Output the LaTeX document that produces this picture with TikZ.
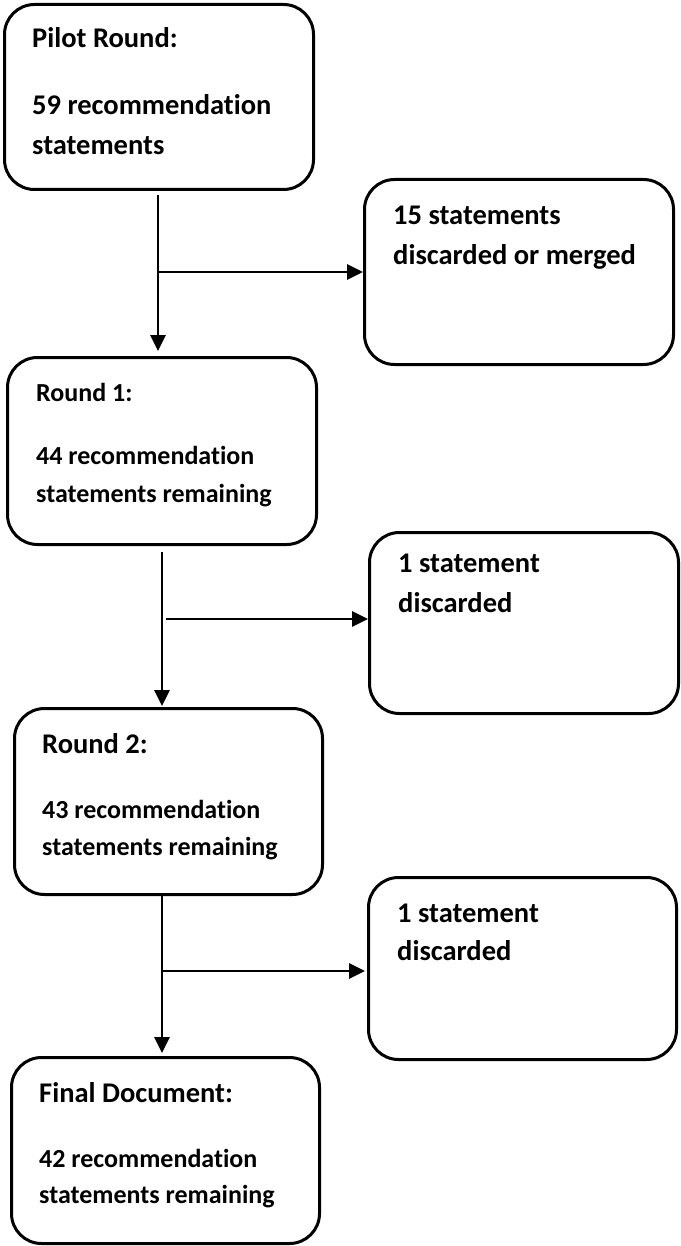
\documentclass[tikz,border=0pt]{standalone}
\usepackage{fontspec}
\setmainfont{Carlito}[RawFeature={-liga}]
\usetikzlibrary{arrows.meta}
\tikzset{
  box/.style={draw=black, line width=3pt, rounded corners=30pt, inner sep=0pt, anchor=north west},
  txt/.style={anchor=base west, inner sep=0pt, font=\fontsize{26}{31}\selectfont\bfseries},
  txtl/.style={txt, font=\fontsize{28.5}{34}\selectfont\bfseries},
  arr/.style={draw=black, line width=2.8pt, -{Triangle[length=16pt,width=15pt]}},
}
\newcommand\mkbox[5]{%
  \pgfmathsetmacro\bw{#4-#2}\pgfmathsetmacro\bh{#5-#3}%
  \node[box, minimum width=\bw pt, minimum height=\bh pt] (#1) at (#2,#3) {};}
\begin{document}
\begin{tikzpicture}[x=1pt,y=-1pt]
\useasboundingbox (0,0) rectangle (680,1246);
% boxes
\mkbox{b1}{3}{3}{312}{188}
\mkbox{r1}{363}{178}{672}{363}
\mkbox{b2}{6}{356}{315}{543}
\mkbox{r2}{368}{531}{677}{712}
\mkbox{b3}{13}{707}{321}{893}
\mkbox{r3}{367}{876}{675}{1058}
\mkbox{b4}{10}{1056}{318}{1242}
% texts
\node[txtl] (t1a) at (32,48) {Pilot Round:};
\node[txtl] (t1b) at (32,115) {59 recommendation};
\node[txtl] (t1c) at (32,155) {statements};
\node[txtl] (u1a) at (393,225) {15 statements};
\node[txtl] (u1b) at (393,265) {discarded or merged};
\node[txt] (t2a) at (36,401) {Round 1:};
\node[txt] (t2b) at (36,464) {44 recommendation};
\node[txt] (t2c) at (36,502) {statements remaining};
\node[txtl] (u2a) at (398,572) {1 statement};
\node[txtl] (u2b) at (398,612) {discarded};
\node[txtl] (t3a) at (42,753) {Round 2:};
\node[txt] (t3b) at (42,818) {43 recommendation};
\node[txt] (t3c) at (42,855) {statements remaining};
\node[txtl] (u3a) at (397,922) {1 statement};
\node[txtl] (u3b) at (397,960) {discarded};
\node[txtl] (t4a) at (39,1102) {Final Document:};
\node[txt] (t4b) at (39,1167) {42 recommendation};
\node[txt] (t4c) at (39,1203) {statements remaining};
% junctions
\coordinate (j1) at (158,272);
\coordinate (j2) at (162,619);
\coordinate (j3) at (162,971);
% connectors
\draw[arr, shorten <=4pt, shorten >=5pt] (b1.south -| j1) -- (b2.north -| j1);
\draw[arr] (j1) -- (j1 -| r1.west);
\draw[arr, shorten <=6pt, shorten >=1pt] (b2.south -| j2) -- (b3.north -| j2);
\draw[arr, shorten <=4pt] (j2) -- (j2 -| r2.west);
\draw[arr, shorten >=3pt] (b3.south -| j3) -- (b4.north -| j3);
\draw[arr, shorten >=2pt] (j3) -- (j3 -| r3.west);
\end{tikzpicture}
\end{document}
